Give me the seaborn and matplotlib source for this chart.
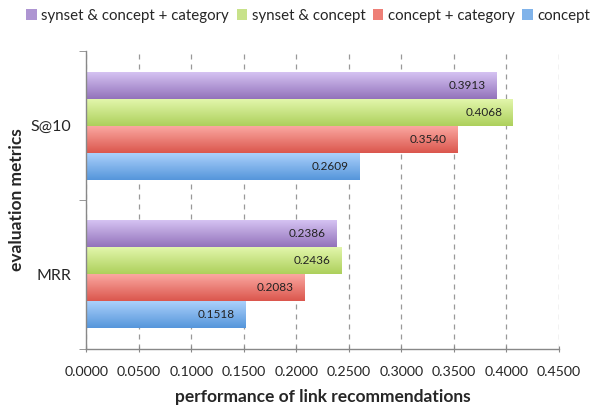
import numpy as np
import pandas as pd
import seaborn as sns
from matplotlib import pyplot as plt
from matplotlib.colors import LinearSegmentedColormap
from matplotlib.ticker import MultipleLocator, FixedLocator

metrics = ['S@10', 'MRR']
methods = ['synset & concept + category', 'synset & concept', 'concept + category', 'concept']
scores = {
    'synset & concept + category': [0.3913, 0.2386],
    'synset & concept': [0.4068, 0.2436],
    'concept + category': [0.3540, 0.2083],
    'concept': [0.2609, 0.1518],
}
colors = ['#ae95d2', '#c8e28a', '#ee7f77', '#80b3ea']
# light (top) / dark (bottom) shades for the Excel-like gradient
grad_top = ['#d5c2f2', '#e2f6ab', '#faa7a1', '#abd0fb']
grad_bot = ['#9373bb', '#add05c', '#db574d', '#5596db']

rows = []
for m in methods:
    for metric, v in zip(metrics, scores[m]):
        rows.append({'metric': metric, 'method': m, 'score': v})
df = pd.DataFrame(rows)

sns.set_style('white')
plt.rcParams['font.family'] = ['Lato', 'DejaVu Sans']

fig = plt.figure(figsize=(6.04, 4.09), dpi=100)
ax = fig.add_axes([0.143, 0.147, 0.782, 0.728])

sns.barplot(data=df, y='metric', x='score', hue='method', order=metrics,
            hue_order=methods, palette=colors, orient='h', width=0.725,
            ax=ax, saturation=1, edgecolor='none')

# gradient fill clipped to each bar
grad = np.linspace(0, 1, 64).reshape(-1, 1)
for i, cont in enumerate(ax.containers):
    cmap = LinearSegmentedColormap.from_list(f'g{i}', [grad_top[i], grad_bot[i]])
    for p in cont.patches:
        x0, y0 = p.get_x(), p.get_y()
        w, h = p.get_width(), p.get_height()
        im = ax.imshow(grad, cmap=cmap, aspect='auto', origin='upper',
                       extent=(x0, x0 + w, y0 + h, y0), zorder=p.get_zorder(),
                       interpolation='bilinear')
        im.set_clip_path(p)
        p.set_facecolor('none')

for cont in ax.containers:
    texts = ax.bar_label(cont, fmt='%.4f', padding=-8, fontsize=8.5, color='#222222')
    for t in texts:
        t.set_ha('right')
        t.set_zorder(5)

ax.set_xlim(0, 0.45)
ax.set_ylim(1.5, -0.5)
ax.xaxis.set_major_locator(MultipleLocator(0.05))
ax.xaxis.set_major_formatter(lambda v, p: f'{v:.4f}')
ax.grid(axis='x', color='#999999', linestyle=(0, (4, 4)), linewidth=0.9)
ax.set_axisbelow(True)

ax.yaxis.set_minor_locator(FixedLocator([-0.5, 0.5, 1.5]))
ax.tick_params(axis='y', which='major', length=0, labelsize=11.5, pad=11)
ax.tick_params(axis='y', which='minor', length=5, color='#888888', left=True)
ax.tick_params(axis='x', length=5, color='#888888', bottom=True, labelsize=10.2,
               direction='inout', pad=10)

for s in ['top', 'right']:
    ax.spines[s].set_visible(False)
for s in ['left', 'bottom']:
    ax.spines[s].set_color('#888888')
    ax.spines[s].set_linewidth(1)

ax.set_xlabel('performance of link recommendations', fontsize=12.5, fontweight='bold', labelpad=8)
ax.set_ylabel('evaluation metrics', fontsize=12.5, fontweight='bold', labelpad=4)

ax.legend(loc='upper center', bbox_to_anchor=(0.47, 1.163), ncol=4, frameon=False,
          fontsize=10.8, handlelength=0.7, handleheight=0.7, handletextpad=0.3,
          columnspacing=0.5, borderaxespad=0)
for h, c in zip(ax.get_legend().legend_handles, colors):
    h.set_facecolor(c)

fig.savefig('out.png', dpi=100)
